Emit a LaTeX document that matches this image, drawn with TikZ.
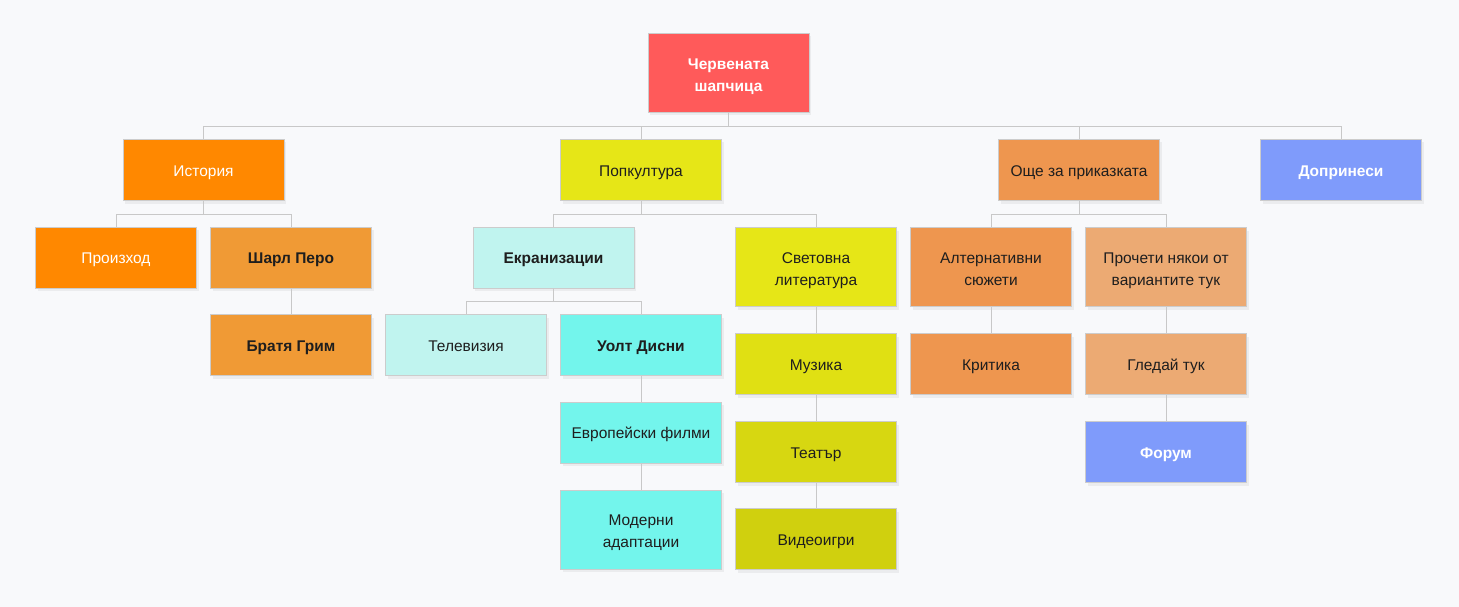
\documentclass[tikz,border=0pt]{standalone}
\usepackage{fontspec}
\setmainfont{Liberation Sans}
\usetikzlibrary{shadows}
\definecolor{bg}{HTML}{F8F9FB}
\definecolor{edge}{HTML}{C8C8C8}
\definecolor{bordc}{HTML}{CCCCCC}
\definecolor{txt}{HTML}{1E1E1E}
\definecolor{cRoot}{HTML}{FF5A5A}
\definecolor{cOrange}{HTML}{FF8800}
\definecolor{cPero}{HTML}{F09A35}
\definecolor{cYel}{HTML}{E6E617}
\definecolor{cYel2}{HTML}{E0E013}
\definecolor{cYel3}{HTML}{D7D711}
\definecolor{cYel4}{HTML}{D0D00E}
\definecolor{cCyanL}{HTML}{C0F4EF}
\definecolor{cCyan}{HTML}{73F5EC}
\definecolor{cMore}{HTML}{EE964F}
\definecolor{cRead}{HTML}{ECAA73}
\definecolor{cBlue}{HTML}{7F9BFB}
\newcommand\lbl[1]{\raisebox{-1.8pt}[\height][\depth]{\begin{tabular}{@{}c@{}}#1\end{tabular}}}
\newcommand\lblt[1]{\raisebox{-3pt}[\height][\depth]{\begin{tabular}{@{}c@{}}#1\end{tabular}}}
\tikzset{
  box/.style={rectangle, draw=bordc, line width=1pt, inner sep=0pt,
    minimum width=161pt, minimum height=61pt,
    font=\fontsize{15.5}{22}\selectfont, text=txt,
    drop shadow={opacity=0.10, shadow xshift=2pt, shadow yshift=-3pt}},
  tall/.style={minimum height=79pt},
  wtext/.style={text=white},
  btext/.style={font=\fontsize{15.5}{22}\selectfont\bfseries},
  conn/.style={draw=edge, line width=1pt}
}
\begin{document}
\begin{tikzpicture}[x=1pt,y=-1pt]
\useasboundingbox[fill=bg] (0,0) rectangle (1459,607);
% level 0
\node[box,tall,fill=cRoot,wtext,btext] (root) at (728.5,73) {\lblt{Червената\\шапчица}};
% level 1
\node[box,fill=cOrange,wtext] (hist) at (203.5,170) {\lbl{История}};
\node[box,fill=cYel] (pop) at (641,170) {\lbl{Попкултура}};
\node[box,fill=cMore] (more) at (1079,170) {\lbl{Още за приказката}};
\node[box,fill=cBlue,wtext,btext] (contrib) at (1341,170) {\lbl{Допринеси}};
% level 2
\node[box,fill=cOrange,wtext] (orig) at (116,257.5) {\lbl{Произход}};
\node[box,fill=cPero,btext] (pero) at (291,257.5) {\lbl{Шарл Перо}};
\node[box,fill=cPero,btext] (grimm) at (291,345) {\lbl{Братя Грим}};
\node[box,fill=cCyanL,btext] (screen) at (553.5,257.5) {\lbl{Екранизации}};
\node[box,tall,fill=cYel] (world) at (816,267) {\lblt{Световна\\литература}};
\node[box,tall,fill=cMore] (alt) at (991,267) {\lblt{Алтернативни\\сюжети}};
\node[box,tall,fill=cRead] (read) at (1166,267) {\lblt{Прочети някои от\\вариантите тук}};
% level 3
\node[box,fill=cCyanL] (tv) at (466,345) {\lbl{Телевизия}};
\node[box,fill=cCyan,btext] (disney) at (641,345) {\lbl{Уолт Дисни}};
\node[box,fill=cCyan] (euro) at (641,432.5) {\lbl{Европейски филми}};
\node[box,tall,fill=cCyan] (modern) at (641,529.5) {\lblt{Модерни\\адаптации}};
\node[box,fill=cYel2] (music) at (816,364) {\lbl{Музика}};
\node[box,fill=cYel3] (theatre) at (816,452) {\lbl{Театър}};
\node[box,fill=cYel4] (games) at (816,539) {\lbl{Видеоигри}};
\node[box,fill=cMore] (crit) at (991,364) {\lbl{Критика}};
\node[box,fill=cRead] (watch) at (1166,364) {\lbl{Гледай тук}};
\node[box,fill=cBlue,wtext,btext] (forum) at (1166,452) {\lbl{Форум}};
% connectors
\foreach \c in {hist,pop,more,contrib}
  \draw[conn] (root.south) -- ++(0,14) -| (\c.north);
\foreach \c in {orig,pero}
  \draw[conn] (hist.south) -- ++(0,13) -| (\c.north);
\foreach \c in {screen,world}
  \draw[conn] (pop.south) -- ++(0,13) -| (\c.north);
\foreach \c in {alt,read}
  \draw[conn] (more.south) -- ++(0,13) -| (\c.north);
\foreach \c in {tv,disney}
  \draw[conn] (screen.south) -- ++(0,13) -| (\c.north);
\draw[conn] (pero.south) -- (grimm.north);
\draw[conn] (disney.south) -- (euro.north);
\draw[conn] (euro.south) -- (modern.north);
\draw[conn] (world.south) -- (music.north);
\draw[conn] (music.south) -- (theatre.north);
\draw[conn] (theatre.south) -- (games.north);
\draw[conn] (alt.south) -- (crit.north);
\draw[conn] (read.south) -- (watch.north);
\draw[conn] (watch.south) -- (forum.north);
\end{tikzpicture}
\end{document}
